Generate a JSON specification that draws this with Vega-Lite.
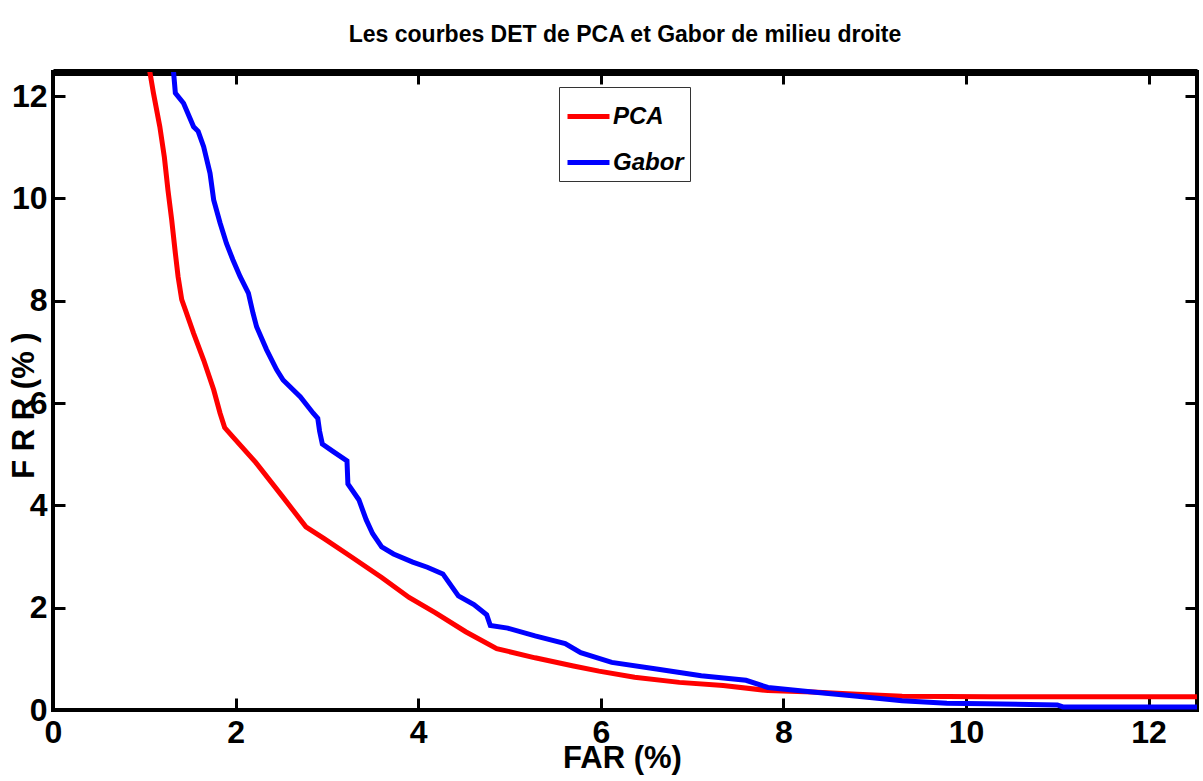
{
  "$schema": "https://vega.github.io/schema/vega-lite/v6.json",
  "width": 1144,
  "height": 638,
  "autosize": "none",
  "padding": {"left": 53, "top": 72, "right": 6, "bottom": 71},
  "background": "white",
  "title": {
    "text": "Les courbes DET de PCA et Gabor de milieu droite",
    "font": "Liberation Sans, Arial, sans-serif",
    "fontSize": 23,
    "fontWeight": "bold",
    "color": "black",
    "anchor": "middle",
    "baseline": "alphabetic",
    "offset": 6
  },
  "config": {
    "view": {"stroke": "black", "strokeWidth": 4},
    "axis": {
      "grid": false,
      "domain": false,
      "tickColor": "black",
      "tickWidth": 3,
      "labelColor": "black",
      "labelFont": "Liberation Sans, Arial, sans-serif",
      "labelFontSize": 32,
      "labelFontWeight": "bold",
      "labelFlush": false,
      "labelOverlap": false,
      "titleColor": "black",
      "titleFont": "Liberation Sans, Arial, sans-serif",
      "titleFontSize": 31,
      "titleFontWeight": "bold"
    }
  },
  "data": {
    "values": [
      {"series": "PCA", "far": 1.06, "frr": 12.48},
      {"series": "PCA", "far": 1.10, "frr": 12.06},
      {"series": "PCA", "far": 1.17, "frr": 11.40},
      {"series": "PCA", "far": 1.22, "frr": 10.80},
      {"series": "PCA", "far": 1.26, "frr": 10.15},
      {"series": "PCA", "far": 1.30, "frr": 9.58},
      {"series": "PCA", "far": 1.34, "frr": 8.93},
      {"series": "PCA", "far": 1.37, "frr": 8.47},
      {"series": "PCA", "far": 1.41, "frr": 8.02},
      {"series": "PCA", "far": 1.45, "frr": 7.82},
      {"series": "PCA", "far": 1.54, "frr": 7.36},
      {"series": "PCA", "far": 1.65, "frr": 6.84},
      {"series": "PCA", "far": 1.76, "frr": 6.26},
      {"series": "PCA", "far": 1.83, "frr": 5.80},
      {"series": "PCA", "far": 1.88, "frr": 5.52},
      {"series": "PCA", "far": 1.97, "frr": 5.34},
      {"series": "PCA", "far": 2.22, "frr": 4.84},
      {"series": "PCA", "far": 2.51, "frr": 4.18},
      {"series": "PCA", "far": 2.77, "frr": 3.58},
      {"series": "PCA", "far": 2.97, "frr": 3.35},
      {"series": "PCA", "far": 3.27, "frr": 2.99},
      {"series": "PCA", "far": 3.60, "frr": 2.59},
      {"series": "PCA", "far": 3.90, "frr": 2.20},
      {"series": "PCA", "far": 4.19, "frr": 1.90},
      {"series": "PCA", "far": 4.52, "frr": 1.53},
      {"series": "PCA", "far": 4.86, "frr": 1.20},
      {"series": "PCA", "far": 5.28, "frr": 1.02},
      {"series": "PCA", "far": 5.70, "frr": 0.86},
      {"series": "PCA", "far": 5.98, "frr": 0.76},
      {"series": "PCA", "far": 6.37, "frr": 0.64},
      {"series": "PCA", "far": 6.86, "frr": 0.54},
      {"series": "PCA", "far": 7.34, "frr": 0.48},
      {"series": "PCA", "far": 7.83, "frr": 0.38},
      {"series": "PCA", "far": 8.32, "frr": 0.35},
      {"series": "PCA", "far": 8.81, "frr": 0.31},
      {"series": "PCA", "far": 9.30, "frr": 0.27},
      {"series": "PCA", "far": 10.28, "frr": 0.26},
      {"series": "PCA", "far": 12.53, "frr": 0.26},
      {"series": "Gabor", "far": 1.32, "frr": 12.48},
      {"series": "Gabor", "far": 1.34, "frr": 12.06},
      {"series": "Gabor", "far": 1.43, "frr": 11.86},
      {"series": "Gabor", "far": 1.54, "frr": 11.40},
      {"series": "Gabor", "far": 1.59, "frr": 11.31},
      {"series": "Gabor", "far": 1.65, "frr": 11.01},
      {"series": "Gabor", "far": 1.72, "frr": 10.49},
      {"series": "Gabor", "far": 1.76, "frr": 9.97},
      {"series": "Gabor", "far": 1.83, "frr": 9.52},
      {"series": "Gabor", "far": 1.90, "frr": 9.12},
      {"series": "Gabor", "far": 1.97, "frr": 8.80},
      {"series": "Gabor", "far": 2.05, "frr": 8.47},
      {"series": "Gabor", "far": 2.14, "frr": 8.15},
      {"series": "Gabor", "far": 2.19, "frr": 7.76},
      {"series": "Gabor", "far": 2.23, "frr": 7.49},
      {"series": "Gabor", "far": 2.34, "frr": 7.04},
      {"series": "Gabor", "far": 2.45, "frr": 6.65},
      {"series": "Gabor", "far": 2.52, "frr": 6.45},
      {"series": "Gabor", "far": 2.71, "frr": 6.12},
      {"series": "Gabor", "far": 2.85, "frr": 5.80},
      {"series": "Gabor", "far": 2.90, "frr": 5.70},
      {"series": "Gabor", "far": 2.92, "frr": 5.45},
      {"series": "Gabor", "far": 2.95, "frr": 5.20},
      {"series": "Gabor", "far": 3.07, "frr": 5.05},
      {"series": "Gabor", "far": 3.22, "frr": 4.87},
      {"series": "Gabor", "far": 3.23, "frr": 4.42},
      {"series": "Gabor", "far": 3.35, "frr": 4.11},
      {"series": "Gabor", "far": 3.43, "frr": 3.72},
      {"series": "Gabor", "far": 3.50, "frr": 3.45},
      {"series": "Gabor", "far": 3.60, "frr": 3.19},
      {"series": "Gabor", "far": 3.73, "frr": 3.05},
      {"series": "Gabor", "far": 3.94, "frr": 2.89},
      {"series": "Gabor", "far": 4.10, "frr": 2.79},
      {"series": "Gabor", "far": 4.27, "frr": 2.66},
      {"series": "Gabor", "far": 4.44, "frr": 2.23},
      {"series": "Gabor", "far": 4.61, "frr": 2.06},
      {"series": "Gabor", "far": 4.75, "frr": 1.86},
      {"series": "Gabor", "far": 4.79, "frr": 1.65},
      {"series": "Gabor", "far": 4.98, "frr": 1.60},
      {"series": "Gabor", "far": 5.28, "frr": 1.45},
      {"series": "Gabor", "far": 5.61, "frr": 1.30},
      {"series": "Gabor", "far": 5.78, "frr": 1.12},
      {"series": "Gabor", "far": 6.12, "frr": 0.93},
      {"series": "Gabor", "far": 6.61, "frr": 0.80},
      {"series": "Gabor", "far": 7.10, "frr": 0.67},
      {"series": "Gabor", "far": 7.59, "frr": 0.58},
      {"series": "Gabor", "far": 7.83, "frr": 0.44},
      {"series": "Gabor", "far": 8.32, "frr": 0.35},
      {"series": "Gabor", "far": 8.81, "frr": 0.27},
      {"series": "Gabor", "far": 9.30, "frr": 0.18},
      {"series": "Gabor", "far": 9.79, "frr": 0.13},
      {"series": "Gabor", "far": 10.21, "frr": 0.12},
      {"series": "Gabor", "far": 11.00, "frr": 0.10},
      {"series": "Gabor", "far": 11.06, "frr": 0.06},
      {"series": "Gabor", "far": 12.53, "frr": 0.06}
    ]
  },
  "layer": [
    {
      "mark": {"type": "line", "strokeWidth": 5, "clip": true},
      "encoding": {
        "x": {
          "field": "far", "type": "quantitative",
          "scale": {"domain": [0, 12.53], "nice": false, "zero": false},
          "axis": {
            "orient": "bottom",
            "values": [0, 2, 4, 6, 8, 10, 12],
            "tickSize": -12,
            "labelPadding": 19,
            "title": "FAR (%)",
            "titleX": 569,
            "titleY": 33,
            "titleBaseline": "top",
            "titleAlign": "center"
          }
        },
        "y": {
          "field": "frr", "type": "quantitative",
          "scale": {"domain": [0, 12.47], "nice": false, "zero": false},
          "axis": {
            "orient": "left",
            "values": [0, 2, 4, 6, 8, 10, 12],
            "tickSize": -12,
            "labelPadding": 18,
            "title": "F R R (% )",
            "titleX": -29,
            "titleY": 333,
            "titleAngle": -90,
            "titleBaseline": "middle",
            "titleAlign": "center"
          }
        },
        "color": {
          "field": "series", "type": "nominal",
          "scale": {"domain": ["PCA", "Gabor"], "range": ["#ff0000", "#0000ff"]},
          "legend": {
            "title": null,
            "orient": "none",
            "legendX": 506,
            "legendY": 15,
            "padding": 6,
            "strokeColor": "#333333",
            "symbolType": "stroke",
            "symbolSize": 1764,
            "symbolStrokeWidth": 5,
            "rowPadding": 10,
            "labelOffset": 1,
            "labelFont": "Liberation Sans, Arial, sans-serif",
            "labelFontSize": 24,
            "labelFontWeight": "bold",
            "labelFontStyle": "italic",
            "labelColor": "black"
          }
        }
      }
    },
    {
      "mark": {"type": "line", "opacity": 0},
      "encoding": {
        "x": {
          "field": "far", "type": "quantitative",
          "scale": {"domain": [0, 12.53], "nice": false, "zero": false},
          "axis": {
            "orient": "top",
            "values": [0, 2, 4, 6, 8, 10, 12],
            "tickSize": -12,
            "labels": false,
            "title": null,
            "domain": true,
            "domainColor": "black",
            "domainWidth": 7
          }
        },
        "y": {
          "field": "frr", "type": "quantitative",
          "scale": {"domain": [0, 12.47], "nice": false, "zero": false},
          "axis": {
            "orient": "right",
            "values": [0, 2, 4, 6, 8, 10, 12],
            "tickSize": -12,
            "labels": false,
            "title": null
          }
        },
        "detail": {"field": "series", "type": "nominal"}
      }
    }
  ],
  "resolve": {"scale": {"x": "independent", "y": "independent"}}
}
